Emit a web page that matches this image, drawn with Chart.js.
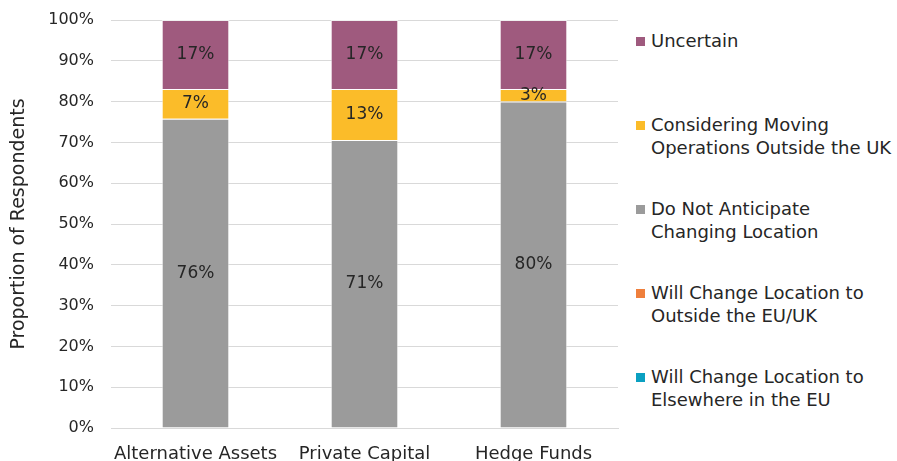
<!DOCTYPE html>
<html>
<head>
<meta charset="utf-8">
<script src="https://cdn.jsdelivr.net/npm/chart.js@4"></script>
<style>
  body { margin: 0; background: #fff; font-family: "DejaVu Sans", sans-serif; }
  #wrap { position: relative; width: 897px; height: 461px; overflow: hidden; }
  #box { position: absolute; left: 0; top: 0; width: 622px; height: 461px; }
  #legend { position: absolute; left: 636px; top: 0; width: 261px; }
  .item { position: absolute; left: 0; display: flex; align-items: flex-start; color: #262626; font-size: 18px; line-height: 23px; white-space: nowrap; }
  .sw { width: 9px; height: 9px; margin-top: 8px; margin-right: 6px; flex: none; }
</style>
</head>
<body>
<div id="wrap">
  <div id="box"><canvas id="chart"></canvas></div>
  <div id="legend"></div>
</div>
<script>
const categories = ["Alternative Assets", "Private Capital", "Hedge Funds"];

// bottom to top of each stack
const seriesNames = [
  ["Will Change Location to", "Elsewhere in the EU"],
  ["Will Change Location to", "Outside the EU/UK"],
  ["Do Not Anticipate", "Changing Location"],
  ["Considering Moving", "Operations Outside the UK"],
  ["Uncertain"],
];
const elsewhereEU = [0, 0, 0];
const outsideEUUK = [0, 0, 0];
const doNotAnticipate = [75.8, 70.6, 80];
const considering = [7.3, 12.5, 3.1];
const uncertain = [16.9, 16.9, 16.9];
const seriesColors = ["#0ba0c1", "#ef7f3c", "#9b9b9b", "#fbbc29", "#9f5a7e"];
const yTicks = [0, 10, 20, 30, 40, 50, 60, 70, 80, 90, 100];

const seriesValues = [elsewhereEU, outsideEUUK, doNotAnticipate, considering, uncertain];

const segmentLabels = {
  id: "segmentLabels",
  afterDatasetsDraw(chart) {
    const ctx = chart.ctx;
    ctx.save();
    ctx.font = "17px 'DejaVu Sans'";
    ctx.fillStyle = "#262626";
    ctx.textAlign = "center";
    ctx.textBaseline = "middle";
    chart.data.datasets.forEach((ds, i) => {
      chart.getDatasetMeta(i).data.forEach((bar, j) => {
        const v = ds.data[j];
        if (!v) return;
        const mid = (bar.y + bar.base) / 2;
        ctx.fillText(Math.round(v) + "%", bar.x, mid);
      });
    });
    ctx.restore();
  },
};

const chart = new Chart(document.getElementById("chart"), {
  type: "bar",
  data: {
    labels: categories,
    datasets: seriesValues.map((vals, i) => ({
      label: seriesNames[i].join(" "),
      data: vals,
      backgroundColor: seriesColors[i],
      borderColor: "rgba(255,255,255,0.6)",
      borderWidth: 1,
      barPercentage: 0.4,
      categoryPercentage: 1,
    })),
  },
  options: {
    responsive: true,
    maintainAspectRatio: false,
    animation: false,
    layout: { padding: { top: 20, right: 4, left: 8 } },
    plugins: {
      legend: { display: false },
      tooltip: { enabled: false },
    },
    scales: {
      x: {
        stacked: true,
        grid: { display: false },
        border: { display: true, color: "#d9d9d9" },
        ticks: { color: "#262626", font: { family: "DejaVu Sans", size: 18 }, padding: 8, maxRotation: 0, autoSkip: false },
        afterFit: (s) => { s.height = 33; },
      },
      y: {
        stacked: true,
        min: 0,
        max: 100,
        afterBuildTicks: (s) => { s.ticks = yTicks.map((v) => ({ value: v })); },
        grid: { color: "#d9d9d9", drawTicks: false },
        border: { display: false },
        ticks: { color: "#262626", font: { family: "DejaVu Sans", size: 16 }, padding: 17, callback: (v) => v + "%" },
        title: { display: true, text: "Proportion of Respondents", color: "#262626", font: { family: "DejaVu Sans", size: 19 }, padding: 0 },
        afterFit: (s) => { s.width = 103; s.paddingTop = 0; s.paddingBottom = 0; },
      },
    },
  },
  plugins: [segmentLabels],
});

// legend, top item = top of stack
const legendEl = document.getElementById("legend");
const legendTops = [29, 113, 197, 281, 365];
chart.data.datasets.slice().reverse().forEach((ds, k) => {
  const idx = chart.data.datasets.length - 1 - k;
  const item = document.createElement("div");
  item.className = "item";
  item.style.top = legendTops[k] + "px";
  item.innerHTML = '<span class="sw" style="background:' + ds.backgroundColor + '"></span><span>' +
    seriesNames[idx].join("<br>") + "</span>";
  legendEl.appendChild(item);
});
</script>
</body>
</html>
